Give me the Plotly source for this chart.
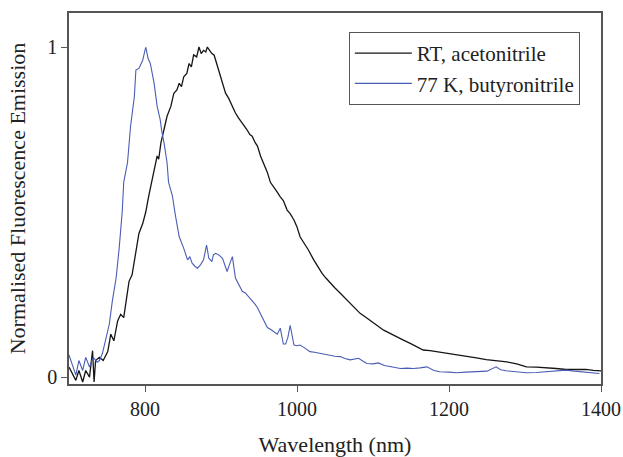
import plotly.graph_objects as go

rt_x = [700, 705, 709, 713, 718, 722, 727, 731, 733, 735, 740, 745, 751, 755, 759, 764, 768, 772, 775, 779,
        783, 788, 792, 797, 801, 805, 808, 812, 816, 818, 821, 825, 829, 834, 838, 842, 845, 848, 851, 855,
        858, 861, 864, 868, 871, 874, 877, 880, 882, 885, 888, 891, 893, 896, 899, 903, 906, 910, 913, 916,
        919, 923, 928, 931, 934, 938, 941, 945, 948, 952, 956, 961, 965, 970, 974, 978, 982, 987, 991, 996,
        1000, 1004, 1010, 1015, 1022, 1027, 1033, 1038, 1044, 1050, 1057, 1063, 1070, 1077, 1083, 1090, 1096,
        1105, 1114, 1122, 1131, 1140, 1149, 1157, 1166, 1175, 1184, 1192, 1201, 1212, 1223, 1236, 1249, 1262,
        1276, 1289, 1302, 1315, 1328, 1341, 1354, 1367, 1380, 1390, 1400]
rt_y = [0.03, 0.01, -0.01, 0.02, -0.015, 0.02, 0.0, 0.08, -0.015, 0.05, 0.06, 0.05, 0.077, 0.13, 0.11, 0.17,
        0.19, 0.18, 0.23, 0.29, 0.31, 0.375, 0.435, 0.465, 0.50, 0.55, 0.58, 0.63, 0.67, 0.66, 0.71, 0.75, 0.79,
        0.82, 0.86, 0.87, 0.89, 0.88, 0.91, 0.92, 0.95, 0.94, 0.976, 0.97, 1.0, 0.98, 0.99, 0.985, 1.0, 0.99,
        0.98, 0.975, 0.96, 0.93, 0.91, 0.88, 0.86, 0.845, 0.83, 0.81, 0.80, 0.785, 0.77, 0.76, 0.75, 0.735,
        0.73, 0.71, 0.70, 0.67, 0.65, 0.62, 0.59, 0.575, 0.56, 0.546, 0.535, 0.506, 0.495, 0.476, 0.455, 0.425,
        0.405, 0.385, 0.355, 0.335, 0.314, 0.30, 0.284, 0.27, 0.254, 0.24, 0.223, 0.207, 0.193, 0.182, 0.173,
        0.157, 0.142, 0.132, 0.122, 0.112, 0.102, 0.092, 0.082, 0.08, 0.077, 0.074, 0.071, 0.066, 0.062, 0.058,
        0.053, 0.05, 0.046, 0.04, 0.031, 0.03, 0.029, 0.026, 0.023, 0.024, 0.023, 0.02, 0.019]

lt_x = [700, 705, 709, 713, 718, 722, 727, 731, 733, 737, 740, 744, 748, 753, 757, 762, 766, 770, 772, 777,
        781, 786, 788, 792, 797, 801, 804, 807, 812, 816, 820, 822, 825, 829, 831, 836, 840, 845, 851, 856,
        859, 862, 866, 869, 873, 877, 881, 884, 888, 890, 893, 897, 902, 906, 908, 911, 915, 919, 923, 928,
        932, 936, 940, 945, 948, 952, 956, 961, 965, 970, 974, 978, 982, 985, 988, 991, 996, 1000, 1004, 1009,
        1013, 1017, 1023, 1030, 1037, 1044, 1050, 1057, 1063, 1070, 1075, 1081, 1087, 1092, 1100, 1107, 1115,
        1125, 1136, 1145, 1153, 1162, 1171, 1180, 1188, 1200, 1210, 1222, 1236, 1250, 1262, 1268, 1275, 1290,
        1302, 1315, 1328, 1340, 1354, 1365, 1376, 1388, 1398]
lt_y = [0.067, 0.03, 0.006, 0.05, 0.02, 0.06, 0.03, 0.055, 0.057, 0.045, 0.05, 0.072, 0.11, 0.16, 0.23, 0.30,
        0.39, 0.50, 0.59, 0.65, 0.76, 0.85, 0.93, 0.935, 0.96, 1.0, 0.966, 0.95, 0.89, 0.82, 0.78, 0.745, 0.71,
        0.65, 0.59, 0.55, 0.49, 0.425, 0.39, 0.355, 0.365, 0.345, 0.335, 0.33, 0.34, 0.355, 0.40, 0.36, 0.35,
        0.37, 0.375, 0.37, 0.36, 0.33, 0.32, 0.34, 0.365, 0.30, 0.28, 0.26, 0.255, 0.245, 0.235, 0.22, 0.21,
        0.19, 0.17, 0.15, 0.145, 0.135, 0.13, 0.148, 0.10, 0.10, 0.12, 0.157, 0.097, 0.095, 0.097, 0.09, 0.082,
        0.077, 0.075, 0.072, 0.067, 0.064, 0.063, 0.062, 0.056, 0.052, 0.055, 0.057, 0.048, 0.041, 0.04, 0.043,
        0.035, 0.03, 0.026, 0.027, 0.026, 0.028, 0.031, 0.02, 0.016, 0.015, 0.013, 0.015, 0.016, 0.018, 0.031,
        0.022, 0.019, 0.015, 0.013, 0.014, 0.016, 0.02, 0.021, 0.018, 0.016, 0.014, 0.011]

x_ticks = [800, 1000, 1200, 1400]
y_ticks = [0, 1]

series_names = ["RT, acetonitrile", "77 K, butyronitrile"]

FONT = "Liberation Serif, Times New Roman, serif"
TXT = "#222222"

fig = go.Figure()
fig.add_trace(go.Scatter(x=rt_x, y=rt_y, mode="lines", name=series_names[0],
                         line=dict(color="#151515", width=1.3)))
fig.add_trace(go.Scatter(x=lt_x, y=lt_y, mode="lines", name=series_names[1],
                         line=dict(color="#4a5db5", width=1.1)))

axis_common = dict(showline=True, linecolor="#555555", linewidth=1.5, mirror=True,
                   ticks="outside", ticklen=6, tickcolor="#555555", tickwidth=1.2,
                   showgrid=False, zeroline=False, automargin=False,
                   tickfont=dict(family=FONT, size=20, color=TXT))

fig.update_layout(
    width=623, height=457,
    margin=dict(l=69, r=22, t=13, b=73, autoexpand=False),
    paper_bgcolor="white", plot_bgcolor="white",
    font=dict(family=FONT, size=20, color=TXT),
    xaxis=dict(range=[700, 1400], tickvals=x_ticks,
               title=dict(text="Wavelength (nm)", font=dict(family=FONT, size=22, color=TXT), standoff=23),
               **axis_common),
    yaxis=dict(range=[-0.021, 1.103], tickvals=y_ticks,
               title=dict(text="Normalised Fluorescence Emission", font=dict(family=FONT, size=22, color=TXT),
                          standoff=16),
               **axis_common),
    legend=dict(x=0.526, y=0.949, xanchor="left", yanchor="top",
                bgcolor="white", bordercolor="#555555", borderwidth=1,
                font=dict(family=FONT, size=21, color=TXT),
                tracegroupgap=0, itemwidth=57),
    showlegend=True,
)

fig.write_html(
    "out.html",
    config={"displayModeBar": False},
    post_script="document.body.style.margin='0';document.documentElement.style.overflow='hidden';",
)
